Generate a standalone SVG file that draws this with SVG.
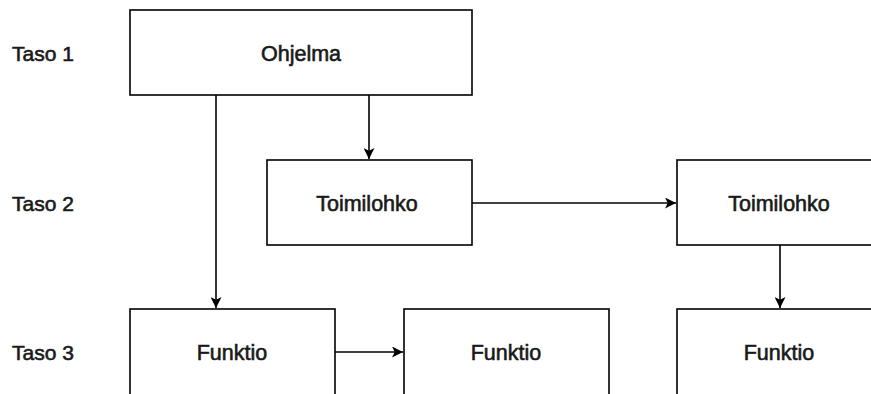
<svg xmlns="http://www.w3.org/2000/svg" width="871" height="394" viewBox="0 0 871 394">
<defs>
<style>
.box{fill:#fff;stroke:#000;stroke-width:1.6}
.lbl{font-family:"Liberation Sans",Arial,sans-serif;font-size:21.5px;fill:#1a1a1a;text-anchor:middle;stroke:#1a1a1a;stroke-width:0.6}
.side{font-family:"Liberation Sans",Arial,sans-serif;font-size:21px;fill:#1a1a1a;stroke:#1a1a1a;stroke-width:0.6}
.edge{fill:none;stroke:#000;stroke-width:1.6}
</style>
<marker id="arr" viewBox="0 0 10 10" refX="10" refY="5" markerWidth="11" markerHeight="11" markerUnits="userSpaceOnUse" orient="auto">
<path d="M0,0 L10,5 L0,10 L2.5,5 Z" fill="#000"/>
</marker>
</defs>
<rect width="871" height="394" fill="#fff"/>
<g id="levels">
<text class="side" x="12" y="61">Taso 1</text>
<text class="side" x="12" y="211">Taso 2</text>
<text class="side" x="12" y="360">Taso 3</text>
</g>
<g id="connectors">
<path class="edge" d="M216,95 V308" marker-end="url(#arr)"/>
<path class="edge" d="M369,95 V159" marker-end="url(#arr)"/>
<path class="edge" d="M472,203 H676" marker-end="url(#arr)" stroke="#444" stroke-width="2"/>
<path class="edge" d="M780,245 V308" marker-end="url(#arr)"/>
<path class="edge" d="M335,352 H403" marker-end="url(#arr)"/>
</g>
<g id="ohjelma">
<rect class="box" x="130" y="10" width="342" height="85"/>
<text class="lbl" x="301" y="61">Ohjelma</text>
</g>
<g id="toimilohko1">
<rect class="box" x="267" y="160" width="205" height="85"/>
<text class="lbl" x="367" y="211">Toimilohko</text>
</g>
<g id="toimilohko2">
<rect class="box" x="677" y="160" width="205" height="85"/>
<text class="lbl" x="779" y="211">Toimilohko</text>
</g>
<g id="funktio1">
<rect class="box" x="130" y="309" width="205" height="90"/>
<text class="lbl" x="232" y="360">Funktio</text>
</g>
<g id="funktio2">
<rect class="box" x="404" y="309" width="205" height="90"/>
<text class="lbl" x="506" y="360">Funktio</text>
</g>
<g id="funktio3">
<rect class="box" x="677" y="309" width="205" height="90"/>
<text class="lbl" x="779" y="360">Funktio</text>
</g>
</svg>
